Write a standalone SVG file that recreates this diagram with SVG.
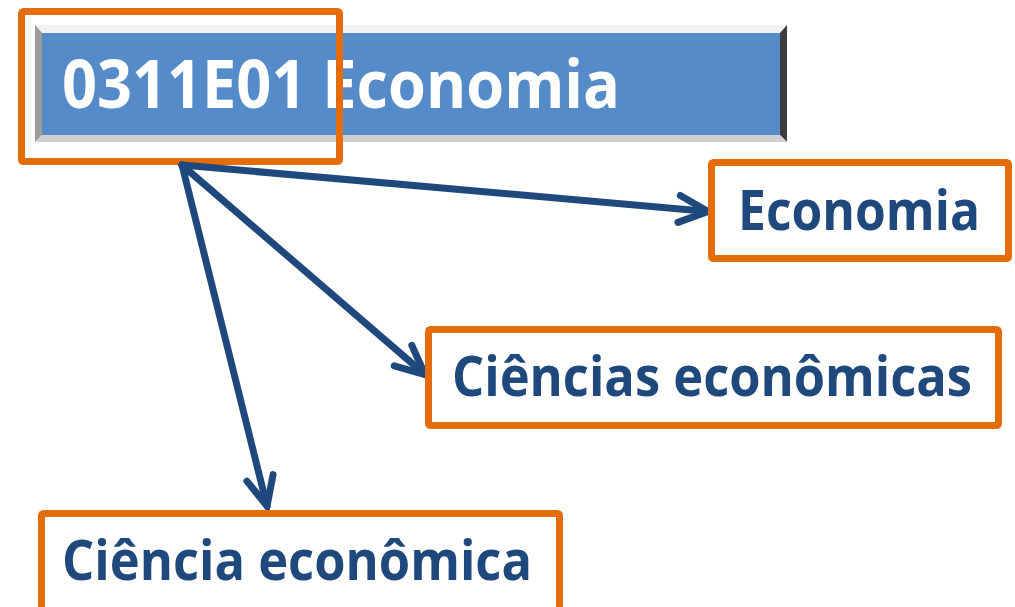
<svg xmlns="http://www.w3.org/2000/svg" width="1015" height="607" viewBox="0 0 1015 607">
<style>
.box{fill:#fff;stroke:#E46C0A;stroke-width:7}
.lbl{font-family:"Open Sans","Liberation Sans",sans-serif;font-weight:bold;fill:#1F497D;font-size:56px}
.conn{stroke:#1F497D;stroke-width:7;fill:none;stroke-linecap:round}
</style>
<defs>
<marker id="arr" markerUnits="userSpaceOnUse" viewBox="-40 -25 50 50" markerWidth="50" markerHeight="50" refX="0" refY="0" orient="auto">
<path d="M-29,-13.5 L0,0 L-29,13.5" fill="none" stroke="#1F497D" stroke-width="7" stroke-linecap="round" stroke-linejoin="miter"/>
</marker>
</defs>
<rect width="1015" height="607" fill="#fff"/>
<g id="title">
<rect x="35" y="25" width="752" height="117" fill="#d4d4d4"/>
<polygon points="35,25 787,25 780,33 42,33" fill="#f2f2f2"/>
<polygon points="35,25 42,33 42,135 35,142" fill="#9c9c9c"/>
<polygon points="787,25 787,142 780,135 780,33" fill="#3c3c3c"/>
<polygon points="35,142 787,142 780,135 42,135" fill="#cfcfcf"/>
<rect x="42" y="33" width="738" height="102" fill="#568BCA"/>
<text x="62" y="108" font-family="Open Sans, Liberation Sans, sans-serif" font-weight="bold" font-size="66" fill="#fff" textLength="558" lengthAdjust="spacingAndGlyphs">0311E01 Economia</text>
<rect class="box" x="21.5" y="11.5" width="318" height="150" rx="2" fill="none" style="fill:none"/>
</g>
<g id="connectors">
<path class="conn" d="M182,165 L708,211.5" marker-end="url(#arr)"/>
<path class="conn" d="M182,165 L425,374.5" marker-end="url(#arr)"/>
<path class="conn" d="M182,165 L267,506" marker-end="url(#arr)"/>
</g>
<g id="n-economia">
<rect class="box" x="711.5" y="162.5" width="297" height="96" rx="2"/>
<text class="lbl" x="738" y="230" textLength="242" lengthAdjust="spacingAndGlyphs">Economia</text>
</g>
<g id="n-ciencias">
<rect class="box" x="428.5" y="329.5" width="570" height="96" rx="2"/>
<text class="lbl" x="452" y="396" textLength="520" lengthAdjust="spacingAndGlyphs">Ciências econômicas</text>
</g>
<g id="n-ciencia">
<rect class="box" x="41.5" y="513.5" width="518" height="110" rx="2"/>
<text class="lbl" x="62" y="580" textLength="470" lengthAdjust="spacingAndGlyphs">Ciência econômica</text>
</g>
</svg>
